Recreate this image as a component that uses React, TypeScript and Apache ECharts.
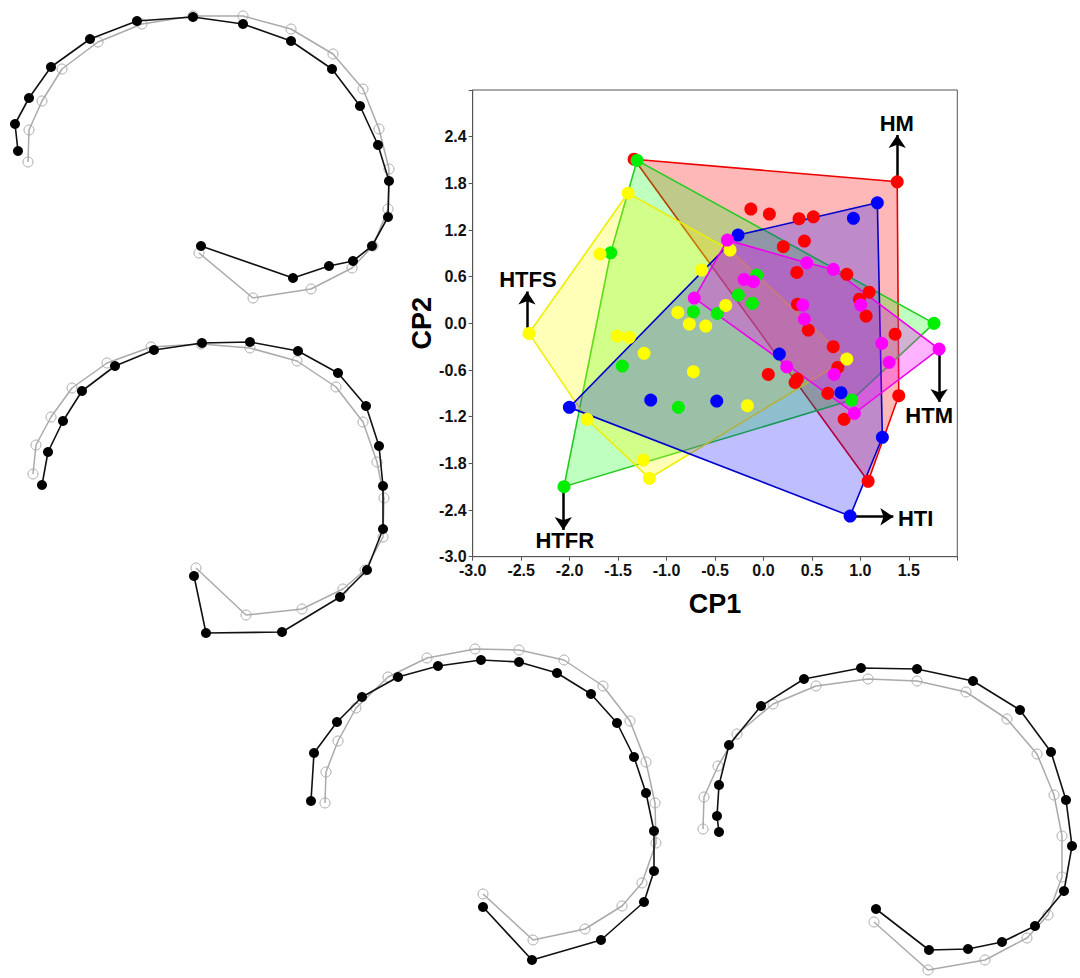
import React, { useEffect, useRef } from "react";
import * as echarts from "echarts";

// ---------- main scatter data (CP1, CP2) ----------
const redPts = [[-1.335,2.11],[1.38,1.82],[-0.13,1.47],[0.061,1.405],[0.367,1.345],[0.515,1.37],[0.205,0.985],[0.422,1.058],[0.344,0.655],[0.86,0.63],[1.09,0.40],[0.99,0.31],[1.059,0.094],[0.35,0.244],[0.463,-0.086],[1.358,-0.14],[0.72,-0.30],[0.767,-0.566],[0.35,-0.716],[0.326,-0.76],[0.05,-0.656],[0.664,-0.90],[0.832,-1.234],[1.396,-0.93],[1.08,-2.03]];
const redHull = [[-1.335,2.11],[1.38,1.82],[1.396,-0.93],[1.08,-2.03]];

const greenPts = [[-1.304,2.095],[1.76,0.0],[0.911,-0.986],[-2.058,-2.10],[-1.576,0.907],[-0.723,0.149],[-0.476,0.128],[-0.259,0.364],[-0.115,0.257],[-0.069,0.62],[-1.456,-0.549],[-0.878,-1.08]];
const greenHull = [[-1.304,2.095],[1.76,0.0],[0.911,-0.986],[-2.058,-2.10],[-1.576,0.907]];

const yellowPts = [[-1.397,1.674],[-2.419,-0.129],[-1.686,0.89],[-0.637,0.685],[-0.345,0.942],[-0.389,0.231],[-0.884,0.141],[-0.765,-0.009],[-0.595,-0.035],[-1.508,-0.163],[-1.384,-0.18],[-1.232,-0.386],[-0.723,-0.622],[-0.166,-1.059],[-1.82,-1.234],[-1.24,-1.757],[-1.177,-1.992],[0.86,-0.459]];
const yellowHull = [[-1.397,1.674],[-0.345,0.942],[0.86,-0.459],[-1.177,-1.992],[-1.82,-1.234],[-2.419,-0.129]];

const bluePts = [[-0.262,1.135],[1.175,1.55],[0.928,1.35],[0.164,-0.395],[0.80,-0.892],[1.227,-1.465],[0.894,-2.477],[-2.003,-1.08],[-1.163,-0.986],[-0.482,-0.999]];
const blueHull = [[-0.262,1.135],[1.175,1.55],[1.227,-1.465],[0.894,-2.477],[-2.003,-1.08]];

const magentaPts = [[-0.372,1.07],[-0.714,0.325],[1.812,-0.33],[0.938,-1.157],[-0.2,0.565],[-0.104,0.535],[0.447,0.779],[0.721,0.694],[0.406,0.235],[0.422,0.055],[1.004,0.235],[1.221,-0.257],[1.296,-0.501],[0.24,-0.558],[0.729,-0.656]];
const magentaHull = [[-0.372,1.07],[0.447,0.779],[0.721,0.694],[1.812,-0.33],[0.938,-1.157],[-0.714,0.325]];

// ---------- arrows / annotation labels ----------
const arrowLabels = ["HM", "HTFS", "HTM", "HTFR", "HTI"];
const arrowFrom = [[1.38,1.84],[-2.44,-0.09],[1.812,-0.36],[-2.065,-2.14],[0.93,-2.486]];
const arrowTo = [[1.38,2.42],[-2.44,0.41],[1.812,-1.01],[-2.065,-2.657],[1.34,-2.486]];
const labelAt = [[1.376,2.57],[-2.43,0.56],[1.71,-1.18],[-2.05,-2.79],[1.57,-2.507]];

// ---------- outline shapes (landmark configurations, page units) ----------
const shape1Black = [[18,151],[15,124],[29,98],[51,67],[90,39],[137,21],[193,17],[243,24],[291,41],[332,69],[360,106],[378,145],[389,181],[388,217],[372,246],[353,261],[329,266],[293,278],[201,246]];
const shape1Grey = [[28,162],[29,130],[42,101],[62,69],[98,42],[142,24],[193,16],[243,16],[291,29],[333,54],[363,89],[379,129],[389,169],[388,209],[373,246],[352,268],[311,289],[253,298],[199,253]];
const shape2Black = [[42,485],[48,452],[63,421],[82,391],[115,366],[154,350],[202,343],[250,342],[298,351],[338,373],[366,406],[379,446],[383,486],[383,529],[367,570],[340,597],[282,632],[206,633],[194,576]];
const shape2Grey = [[33,474],[36,445],[51,417],[72,388],[107,363],[151,347],[201,344],[250,348],[297,361],[336,387],[363,422],[377,462],[384,498],[383,537],[365,570],[343,589],[302,609],[246,615],[196,568]];
const shape3Black = [[311,801],[314,753],[337,722],[362,697],[398,677],[438,666],[481,660],[519,662],[557,673],[591,694],[617,723],[634,757],[646,793],[654,831],[654,871],[644,902],[601,940],[532,960],[483,907]];
const shape3Grey = [[325,803],[326,772],[338,741],[356,708],[388,677],[427,658],[475,649],[519,650],[564,660],[603,686],[630,721],[646,762],[655,803],[656,843],[642,883],[622,906],[585,929],[533,940],[483,894]];
const shape4Black = [[719,832],[717,816],[719,785],[729,745],[761,706],[804,679],[861,668],[917,669],[973,681],[1020,710],[1051,752],[1066,800],[1072,846],[1064,891],[1035,926],[1002,942],[968,949],[929,950],[876,909]];
const shape4Grey = [[703,829],[704,797],[718,766],[737,734],[773,704],[816,686],[868,679],[917,681],[966,692],[1007,719],[1037,754],[1054,795],[1062,836],[1062,877],[1048,915],[1027,938],[985,960],[928,970],[874,922]];

const FONT = "'Liberation Sans', Arial, sans-serif";

function hullSeries(hull: number[][], fill: string, stroke: string, z: number) {
  return {
    type: "custom",
    xAxisIndex: 0,
    yAxisIndex: 0,
    silent: true,
    z,
    data: [[0, 0]],
    renderItem: (_p: any, api: any) => ({
      type: "polygon",
      shape: { points: hull.map((p) => api.coord(p)) },
      style: { fill, stroke, lineWidth: 1.6 },
    }),
  };
}

function dotSeries(name: string, data: number[][], color: string) {
  return {
    name,
    type: "scatter",
    xAxisIndex: 0,
    yAxisIndex: 0,
    data,
    symbolSize: 13,
    itemStyle: { color, opacity: 1 },
    z: 10,
  };
}

function shapeBlack(data: number[][]) {
  return {
    type: "line",
    xAxisIndex: 1,
    yAxisIndex: 1,
    data,
    symbol: "circle",
    symbolSize: 10,
    showSymbol: true,
    itemStyle: { color: "#000" },
    lineStyle: { color: "#111", width: 1.6 },
    z: 5,
  };
}

function shapeGrey(data: number[][]) {
  return {
    type: "line",
    xAxisIndex: 1,
    yAxisIndex: 1,
    data,
    symbol: "circle",
    symbolSize: 10,
    showSymbol: true,
    itemStyle: { color: "rgba(255,255,255,0)", borderColor: "#aaa", borderWidth: 1 },
    lineStyle: { color: "#aaa", width: 1.5 },
    z: 4,
  };
}

export default function App() {
  const ref = useRef<HTMLDivElement>(null);
  useEffect(() => {
    if (!ref.current) return;
    const chart = echarts.init(ref.current, null, { renderer: "svg" });
    const fmt = (v: number) => (Math.abs(v) < 1e-9 ? 0 : v).toFixed(1);
    const option: any = {
      animation: false,
      backgroundColor: "#fff",
      grid: [
        { left: 472.7, top: 90, width: 484.6, height: 466.7, show: true, borderColor: "#555", borderWidth: 1, backgroundColor: "transparent" },
        { left: 0, top: 0, width: 1080, height: 978 },
      ],
      xAxis: [
        {
          gridIndex: 0, type: "value", min: -3, max: 2, interval: 0.5,
          name: "CP1", nameLocation: "middle", nameGap: 34,
          nameTextStyle: { fontSize: 27, fontWeight: "bold", color: "#000", fontFamily: FONT },
          axisLine: { show: true, onZero: false, lineStyle: { color: "#555" } },
          axisTick: { show: true, length: 4, lineStyle: { color: "#555" } },
          axisLabel: { margin: 6, fontSize: 16, fontWeight: "bold", color: "#111", fontFamily: FONT, formatter: (v: number) => (v > 1.9 ? "" : fmt(v)) },
          splitLine: { show: false },
        },
        { gridIndex: 1, type: "value", min: 0, max: 1080, show: false },
      ],
      yAxis: [
        {
          gridIndex: 0, type: "value", min: -3, max: 3, interval: 0.6,
          name: "CP2", nameLocation: "middle", nameGap: 26, nameRotate: 90,
          nameTextStyle: { fontSize: 27, fontWeight: "bold", color: "#000", fontFamily: FONT },
          axisLine: { show: true, onZero: false, lineStyle: { color: "#555" } },
          axisTick: { show: true, length: 4, lineStyle: { color: "#555" } },
          axisLabel: { margin: 6, fontSize: 16, fontWeight: "bold", color: "#111", fontFamily: FONT, formatter: (v: number) => (v > 2.9 ? "" : fmt(v)) },
          splitLine: { show: false },
        },
        { gridIndex: 1, type: "value", min: 0, max: 978, inverse: true, show: false },
      ],
      series: [
        hullSeries(redHull, "rgba(255,0,0,0.28)", "#ee0000", 1),
        hullSeries(greenHull, "rgba(0,255,0,0.25)", "#22cc22", 2),
        hullSeries(yellowHull, "rgba(255,255,0,0.28)", "#eeee00", 3),
        hullSeries(blueHull, "rgba(0,0,255,0.25)", "#0000cc", 4),
        hullSeries(magentaHull, "rgba(255,0,255,0.3)", "#ee00ee", 5),
        dotSeries("red", redPts, "#ff0000"),
        dotSeries("green", greenPts, "#00ee00"),
        dotSeries("yellow", yellowPts, "#ffff00"),
        dotSeries("blue", bluePts, "#0000ff"),
        dotSeries("magenta", magentaPts, "#ff00ff"),
        {
          type: "lines",
          coordinateSystem: "cartesian2d",
          xAxisIndex: 0,
          yAxisIndex: 0,
          z: 8,
          symbol: ["none", "arrow"],
          symbolSize: 13,
          lineStyle: { color: "#000", width: 2.5, opacity: 1 },
          data: arrowFrom.map((f, i) => ({ coords: [f, arrowTo[i]] })),
        },
        {
          type: "custom",
          xAxisIndex: 0,
          yAxisIndex: 0,
          silent: true,
          z: 12,
          data: labelAt,
          renderItem: (params: any, api: any) => {
            const pt = api.coord([api.value(0), api.value(1)]);
            return {
              type: "text",
              x: pt[0],
              y: pt[1],
              style: {
                text: arrowLabels[params.dataIndex],
                fill: "#000",
                font: `bold 22px ${FONT}`,
                align: "center",
                verticalAlign: "middle",
              },
            };
          },
        },
        shapeGrey(shape1Grey), shapeBlack(shape1Black),
        shapeGrey(shape2Grey), shapeBlack(shape2Black),
        shapeGrey(shape3Grey), shapeBlack(shape3Black),
        shapeGrey(shape4Grey), shapeBlack(shape4Black),
      ],
    };
    chart.setOption(option);
    return () => chart.dispose();
  }, []);
  return <div ref={ref} style={{ position: "fixed", left: 0, top: 0, width: 1080, height: 978 }} />;
}
